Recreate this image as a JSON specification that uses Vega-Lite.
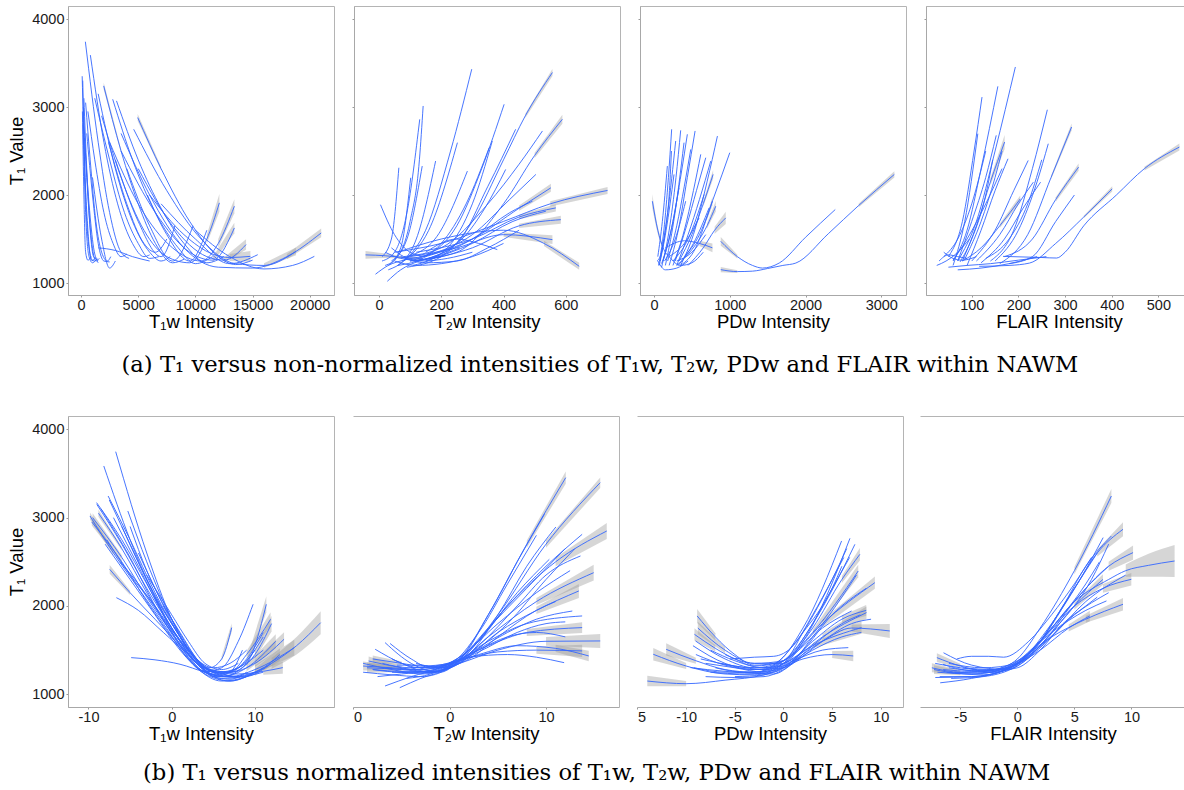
{
"$schema":"https://vega.github.io/schema/vega-lite/v6.json",
"background":"white",
"padding":{"left":7,"top":5,"right":0,"bottom":0},
"config":{
 "font":"Liberation Sans",
 "view":{"stroke":"#b4b4b4","strokeWidth":1},
 "axis":{"grid":false,"labelFont":"Liberation Sans","labelFontSize":14.5,"labelColor":"#1a1a1a","titleFont":"Liberation Sans","titleFontSize":18.5,"titleFontWeight":"normal","titleColor":"#000000","tickColor":"#9a9a9a","tickSize":2,"domainColor":"#a8a8a8","labelPadding":1},
 "axisX":{"titlePadding":1},
 "axisY":{"titlePadding":5,"labelPadding":2}
},
"datasets":{
"a1":[
{"c":1,"x":100,"y":3350},{"c":1,"x":300,"y":2400},{"c":1,"x":600,"y":1600},{"c":1,"x":900,"y":1260},{"c":1,"x":1200,"y":1250},
{"c":2,"x":150,"y":3300},{"c":2,"x":350,"y":2200},{"c":2,"x":700,"y":1400},{"c":2,"x":1000,"y":1260},{"c":2,"x":1300,"y":1290},
{"c":3,"x":200,"y":3000},{"c":3,"x":500,"y":2200},{"c":3,"x":900,"y":1500},{"c":3,"x":1300,"y":1250},{"c":3,"x":1600,"y":1280},
{"c":4,"x":379,"y":3742},{"c":4,"x":1500,"y":2600},{"c":4,"x":2500,"y":1800},{"c":4,"x":3500,"y":1350},{"c":4,"x":4200,"y":1280},
{"c":5,"x":816,"y":3590},{"c":5,"x":2000,"y":2600},{"c":5,"x":3200,"y":1900},{"c":5,"x":4500,"y":1450},{"c":5,"x":5500,"y":1300},{"c":5,"x":6000,"y":1320},
{"c":6,"x":120,"y":2950},{"c":6,"x":250,"y":2000},{"c":6,"x":400,"y":1350},{"c":6,"x":600,"y":1260},{"c":6,"x":900,"y":1300},
{"c":7,"x":250,"y":3100},{"c":7,"x":500,"y":2300},{"c":7,"x":800,"y":1600},{"c":7,"x":1100,"y":1300},{"c":7,"x":1500,"y":1260},
{"c":8,"x":400,"y":3050},{"c":8,"x":800,"y":2400},{"c":8,"x":1300,"y":1700},{"c":8,"x":1800,"y":1350},{"c":8,"x":2300,"y":1250},{"c":8,"x":2600,"y":1300},
{"c":9,"x":180,"y":2800},{"c":9,"x":400,"y":1800},{"c":9,"x":700,"y":1300},{"c":9,"x":1000,"y":1230},{"c":9,"x":1400,"y":1280},
{"c":10,"x":600,"y":2950},{"c":10,"x":1200,"y":2400},{"c":10,"x":2000,"y":1800},{"c":10,"x":2800,"y":1450},{"c":10,"x":3500,"y":1300},{"c":10,"x":4000,"y":1330},
{"c":11,"x":1200,"y":3100},{"c":11,"x":2500,"y":2400},{"c":11,"x":3800,"y":1800},{"c":11,"x":5000,"y":1450},{"c":11,"x":6000,"y":1280},{"c":11,"x":6800,"y":1300},
{"c":12,"x":1500,"y":3150},{"c":12,"x":3000,"y":2300},{"c":12,"x":4500,"y":1700},{"c":12,"x":6000,"y":1350},{"c":12,"x":7000,"y":1250},{"c":12,"x":7800,"y":1300},
{"c":13,"x":1982,"y":3240,"l":3200,"h":3280},{"c":13,"x":3500,"y":2500,"l":2480,"h":2520},{"c":13,"x":5000,"y":1900},{"c":13,"x":6500,"y":1450},{"c":13,"x":8000,"y":1230},{"c":13,"x":9000,"y":1270},
{"c":14,"x":2769,"y":3088},{"c":14,"x":4500,"y":2400},{"c":14,"x":6500,"y":1800},{"c":14,"x":8500,"y":1400},{"c":14,"x":10000,"y":1220},{"c":14,"x":11500,"y":1300},
{"c":15,"x":3100,"y":3070},{"c":15,"x":5000,"y":2400},{"c":15,"x":7000,"y":1850},{"c":15,"x":9000,"y":1450},{"c":15,"x":11000,"y":1230},{"c":15,"x":12500,"y":1300},
{"c":16,"x":4955,"y":2880,"l":2840,"h":2920},{"c":16,"x":7000,"y":2300,"l":2280,"h":2320},{"c":16,"x":9500,"y":1700},{"c":16,"x":12000,"y":1300},{"c":16,"x":13500,"y":1210},{"c":16,"x":15000,"y":1260},
{"c":17,"x":4605,"y":2747},{"c":17,"x":7500,"y":2050},{"c":17,"x":10500,"y":1500},{"c":17,"x":13500,"y":1220},{"c":17,"x":16000,"y":1200,"l":1175,"h":1225},{"c":17,"x":18800,"y":1360,"l":1315,"h":1405},
{"c":18,"x":3500,"y":2700},{"c":18,"x":6000,"y":2000},{"c":18,"x":9000,"y":1400},{"c":18,"x":12000,"y":1180},{"c":18,"x":15000,"y":1170},{"c":18,"x":18000,"y":1300,"l":1270,"h":1330},{"c":18,"x":21000,"y":1569,"l":1519,"h":1619},
{"c":19,"x":1800,"y":2900},{"c":19,"x":3500,"y":2200},{"c":19,"x":5500,"y":1600},{"c":19,"x":7500,"y":1300},{"c":19,"x":9500,"y":1230},{"c":19,"x":11000,"y":1500,"l":1450,"h":1550},{"c":19,"x":12097,"y":1911,"l":1811,"h":2011},
{"c":20,"x":2500,"y":2600},{"c":20,"x":5000,"y":1900},{"c":20,"x":8000,"y":1400},{"c":20,"x":10500,"y":1250},{"c":20,"x":12000,"y":1450,"l":1400,"h":1500},{"c":20,"x":13409,"y":1873,"l":1793,"h":1953},
{"c":21,"x":3500,"y":2500},{"c":21,"x":6500,"y":1800},{"c":21,"x":9500,"y":1350},{"c":21,"x":11500,"y":1260,"l":1230,"h":1290},{"c":21,"x":13409,"y":1626,"l":1566,"h":1686},
{"c":22,"x":5000,"y":2300},{"c":22,"x":8000,"y":1650},{"c":22,"x":11000,"y":1300},{"c":22,"x":12500,"y":1260,"l":1230,"h":1290},{"c":22,"x":14429,"y":1437,"l":1377,"h":1497},
{"c":23,"x":6000,"y":2000},{"c":23,"x":9000,"y":1550},{"c":23,"x":11500,"y":1330},{"c":23,"x":13000,"y":1290,"l":1250,"h":1330},{"c":23,"x":14808,"y":1303,"l":1243,"h":1363},
{"c":24,"x":7000,"y":1900},{"c":24,"x":10000,"y":1500},{"c":24,"x":13000,"y":1220},{"c":24,"x":15450,"y":1322},
{"c":25,"x":10000,"y":1600},{"c":25,"x":13000,"y":1300},{"c":25,"x":16000,"y":1160},{"c":25,"x":18500,"y":1200},{"c":25,"x":20400,"y":1303},
{"c":26,"x":1500,"y":1400},{"c":26,"x":3000,"y":1370},{"c":26,"x":4500,"y":1300},{"c":26,"x":6000,"y":1250},
{"c":27,"x":1000,"y":2200},{"c":27,"x":1800,"y":1500},{"c":27,"x":2500,"y":1170},{"c":27,"x":3000,"y":1250},
{"c":28,"x":3000,"y":2400},{"c":28,"x":5000,"y":1700},{"c":28,"x":7000,"y":1300},{"c":28,"x":8200,"y":1650},
{"c":29,"x":4000,"y":2300},{"c":29,"x":6000,"y":1650},{"c":29,"x":8000,"y":1250},{"c":29,"x":9800,"y":1650},
{"c":30,"x":5800,"y":2000},{"c":30,"x":7500,"y":1550},{"c":30,"x":9500,"y":1250},{"c":30,"x":11000,"y":1600},
{"c":31,"x":2400,"y":2600},{"c":31,"x":4000,"y":1900},{"c":31,"x":5500,"y":1450},{"c":31,"x":6500,"y":1350},{"c":31,"x":7500,"y":1500},
{"c":32,"x":500,"y":2700},{"c":32,"x":1000,"y":2000},{"c":32,"x":1500,"y":1450},{"c":32,"x":2000,"y":1250},{"c":32,"x":2500,"y":1240},
{"c":33,"x":300,"y":2650},{"c":33,"x":700,"y":1900},{"c":33,"x":1100,"y":1400},{"c":33,"x":1500,"y":1230}
],
"a2":[
{"c":1,"x":-43,"y":1320,"l":1275,"h":1365},{"c":1,"x":20,"y":1310,"l":1285,"h":1335},{"c":1,"x":80,"y":1290,"l":1275,"h":1305},{"c":1,"x":140,"y":1280,"l":1265,"h":1295},
{"c":2,"x":20,"y":1200},{"c":2,"x":60,"y":1300},{"c":2,"x":100,"y":1700},{"c":2,"x":130,"y":2400},{"c":2,"x":142,"y":3012},
{"c":3,"x":10,"y":1250},{"c":3,"x":50,"y":1350},{"c":3,"x":90,"y":1800},{"c":3,"x":131,"y":2860},
{"c":4,"x":30,"y":1150},{"c":4,"x":80,"y":1250},{"c":4,"x":150,"y":1600},{"c":4,"x":230,"y":2500},{"c":4,"x":298,"y":3430},
{"c":5,"x":90,"y":1180},{"c":5,"x":200,"y":1300},{"c":5,"x":300,"y":1700},{"c":5,"x":400,"y":2400},{"c":5,"x":470,"y":2900,"l":2875,"h":2925},{"c":5,"x":557,"y":3392,"l":3352,"h":3432},
{"c":6,"x":60,"y":1200},{"c":6,"x":150,"y":1300},{"c":6,"x":250,"y":1650},{"c":6,"x":330,"y":2300},{"c":6,"x":402,"y":3031},
{"c":7,"x":100,"y":1250},{"c":7,"x":250,"y":1350},{"c":7,"x":400,"y":1900},{"c":7,"x":500,"y":2450,"l":2420,"h":2480},{"c":7,"x":589,"y":2861,"l":2811,"h":2911},
{"c":8,"x":80,"y":1300},{"c":8,"x":200,"y":1400},{"c":8,"x":350,"y":1900},{"c":8,"x":450,"y":2350},{"c":8,"x":525,"y":2728},
{"c":9,"x":50,"y":1350},{"c":9,"x":200,"y":1450},{"c":9,"x":400,"y":1700},{"c":9,"x":550,"y":1900,"l":1870,"h":1930},{"c":9,"x":734,"y":2052,"l":2012,"h":2092},
{"c":10,"x":60,"y":1350},{"c":10,"x":200,"y":1500},{"c":10,"x":400,"y":1600},{"c":10,"x":530,"y":1450,"l":1420,"h":1480},{"c":10,"x":643,"y":1190,"l":1150,"h":1230},
{"c":11,"x":100,"y":1300},{"c":11,"x":250,"y":1400},{"c":11,"x":400,"y":1550,"l":1525,"h":1575},{"c":11,"x":557,"y":1493,"l":1443,"h":1543},
{"c":12,"x":120,"y":1250},{"c":12,"x":300,"y":1400},{"c":12,"x":450,"y":1650,"l":1625,"h":1675},{"c":12,"x":584,"y":1720,"l":1675,"h":1765},
{"c":13,"x":150,"y":1300},{"c":13,"x":300,"y":1500},{"c":13,"x":450,"y":1850,"l":1820,"h":1880},{"c":13,"x":552,"y":2082,"l":2037,"h":2127},
{"c":14,"x":120,"y":1350},{"c":14,"x":300,"y":1500},{"c":14,"x":450,"y":1750,"l":1725,"h":1775},{"c":14,"x":568,"y":1854,"l":1814,"h":1894},
{"c":15,"x":5,"y":1890},{"c":15,"x":50,"y":1550},{"c":15,"x":100,"y":1350},{"c":15,"x":150,"y":1300},
{"c":16,"x":150,"y":1350},{"c":16,"x":250,"y":1500},{"c":16,"x":320,"y":1450},{"c":16,"x":380,"y":1380},
{"c":17,"x":10,"y":1300},{"c":17,"x":40,"y":1500},{"c":17,"x":64,"y":2310},
{"c":18,"x":30,"y":1200},{"c":18,"x":70,"y":1400},{"c":18,"x":102,"y":2196},
{"c":19,"x":40,"y":1250},{"c":19,"x":90,"y":1500},{"c":19,"x":139,"y":2329},
{"c":20,"x":60,"y":1200},{"c":20,"x":120,"y":1500},{"c":20,"x":182,"y":2386},
{"c":21,"x":80,"y":1250},{"c":21,"x":160,"y":1600},{"c":21,"x":252,"y":2595},
{"c":22,"x":90,"y":1300},{"c":22,"x":180,"y":1500},{"c":22,"x":284,"y":2272},
{"c":23,"x":100,"y":1250},{"c":23,"x":200,"y":1450},{"c":23,"x":280,"y":1900},{"c":23,"x":354,"y":2538},
{"c":24,"x":110,"y":1200},{"c":24,"x":220,"y":1400},{"c":24,"x":300,"y":1900},{"c":24,"x":364,"y":2614},
{"c":25,"x":120,"y":1250},{"c":25,"x":250,"y":1450},{"c":25,"x":350,"y":2100},{"c":25,"x":439,"y":2747},
{"c":26,"x":130,"y":1300},{"c":26,"x":250,"y":1450},{"c":26,"x":340,"y":1850},{"c":26,"x":407,"y":2291},
{"c":27,"x":140,"y":1300},{"c":27,"x":300,"y":1550},{"c":27,"x":420,"y":1950},{"c":27,"x":504,"y":2234},
{"c":28,"x":150,"y":1250},{"c":28,"x":300,"y":1450},{"c":28,"x":430,"y":1700},{"c":28,"x":536,"y":1816},
{"c":29,"x":160,"y":1280},{"c":29,"x":300,"y":1500},{"c":29,"x":420,"y":1800},{"c":29,"x":493,"y":1930},
{"c":30,"x":-11,"y":1100},{"c":30,"x":30,"y":1200},{"c":30,"x":80,"y":1260},{"c":30,"x":140,"y":1300},
{"c":31,"x":27,"y":1020},{"c":31,"x":70,"y":1150},{"c":31,"x":130,"y":1250},{"c":31,"x":200,"y":1300},
{"c":32,"x":40,"y":1400},{"c":32,"x":80,"y":1300},{"c":32,"x":140,"y":1250},{"c":32,"x":220,"y":1280},{"c":32,"x":300,"y":1350},
{"c":33,"x":20,"y":1350},{"c":33,"x":70,"y":1280},{"c":33,"x":120,"y":1260},{"c":33,"x":180,"y":1300},{"c":33,"x":260,"y":1400},
{"c":34,"x":50,"y":1250},{"c":34,"x":120,"y":1200},{"c":34,"x":200,"y":1220},{"c":34,"x":300,"y":1300},{"c":34,"x":400,"y":1450},
{"c":35,"x":70,"y":1300},{"c":35,"x":150,"y":1230},{"c":35,"x":250,"y":1250},{"c":35,"x":350,"y":1400},{"c":35,"x":450,"y":1600}
],
"a3":[
{"c":1,"x":-22,"y":1930,"l":1850,"h":2010},{"c":1,"x":50,"y":1600,"l":1560,"h":1640},{"c":1,"x":120,"y":1400,"l":1380,"h":1420},{"c":1,"x":200,"y":1300},
{"c":2,"x":60,"y":1200},{"c":2,"x":130,"y":1600},{"c":2,"x":190,"y":2200},{"c":2,"x":233,"y":2747},
{"c":3,"x":100,"y":1180},{"c":3,"x":200,"y":1600},{"c":3,"x":290,"y":2200},{"c":3,"x":352,"y":2735},
{"c":4,"x":120,"y":1250},{"c":4,"x":250,"y":1700},{"c":4,"x":360,"y":2250},{"c":4,"x":440,"y":2690},
{"c":5,"x":200,"y":1200},{"c":5,"x":320,"y":1600},{"c":5,"x":440,"y":2200},{"c":5,"x":542,"y":2728},
{"c":6,"x":50,"y":1300},{"c":6,"x":110,"y":1700},{"c":6,"x":176,"y":2329},
{"c":7,"x":80,"y":1250},{"c":7,"x":180,"y":1800},{"c":7,"x":286,"y":2614},
{"c":8,"x":150,"y":1200},{"c":8,"x":260,"y":1700},{"c":8,"x":396,"y":2595},
{"c":9,"x":180,"y":1250},{"c":9,"x":300,"y":1650},{"c":9,"x":400,"y":2100},{"c":9,"x":485,"y":2519},
{"c":10,"x":250,"y":1200},{"c":10,"x":400,"y":1600},{"c":10,"x":520,"y":2050},{"c":10,"x":617,"y":2462},
{"c":11,"x":280,"y":1250},{"c":11,"x":430,"y":1650},{"c":11,"x":560,"y":2050},{"c":11,"x":683,"y":2424},
{"c":12,"x":300,"y":1200},{"c":12,"x":450,"y":1550},{"c":12,"x":600,"y":1950},{"c":12,"x":749,"y":2386},
{"c":13,"x":330,"y":1250},{"c":13,"x":500,"y":1550},{"c":13,"x":650,"y":1900,"l":1870,"h":1930},{"c":13,"x":780,"y":2234,"l":2184,"h":2284},
{"c":14,"x":350,"y":1200},{"c":14,"x":520,"y":1550},{"c":14,"x":700,"y":2150},{"c":14,"x":837,"y":2670},
{"c":15,"x":400,"y":1300},{"c":15,"x":600,"y":1550},{"c":15,"x":800,"y":2000},{"c":15,"x":1000,"y":2481},
{"c":16,"x":70,"y":1200},{"c":16,"x":160,"y":1600},{"c":16,"x":264,"y":2234},
{"c":17,"x":100,"y":1220},{"c":17,"x":200,"y":1500},{"c":17,"x":330,"y":2082},
{"c":18,"x":140,"y":1250},{"c":18,"x":280,"y":1500},{"c":18,"x":418,"y":1930},
{"c":19,"x":250,"y":1250},{"c":19,"x":450,"y":1500},{"c":19,"x":661,"y":2006},
{"c":20,"x":320,"y":1200},{"c":20,"x":520,"y":1450},{"c":20,"x":727,"y":1854},
{"c":21,"x":200,"y":1300},{"c":21,"x":400,"y":1450},{"c":21,"x":595,"y":1740},
{"c":22,"x":300,"y":1250},{"c":22,"x":500,"y":1350},{"c":22,"x":683,"y":1550},
{"c":23,"x":350,"y":1200},{"c":23,"x":550,"y":1400},{"c":23,"x":700,"y":1750,"l":1720,"h":1780},{"c":23,"x":771,"y":1930,"l":1880,"h":1980},
{"c":24,"x":300,"y":1200},{"c":24,"x":500,"y":1380},{"c":24,"x":700,"y":1650,"l":1620,"h":1680},{"c":24,"x":815,"y":1873,"l":1813,"h":1933},
{"c":25,"x":450,"y":1200},{"c":25,"x":650,"y":1400},{"c":25,"x":800,"y":1600,"l":1560,"h":1640},{"c":25,"x":947,"y":1740,"l":1670,"h":1810},
{"c":26,"x":150,"y":1400},{"c":26,"x":400,"y":1480},{"c":26,"x":600,"y":1450,"l":1420,"h":1480},{"c":26,"x":771,"y":1400,"l":1350,"h":1450},
{"c":27,"x":881,"y":1474,"l":1424,"h":1524},{"c":27,"x":1100,"y":1300,"l":1280,"h":1320},{"c":27,"x":1300,"y":1200},{"c":27,"x":1432,"y":1170},{"c":27,"x":1652,"y":1227},{"c":27,"x":2000,"y":1520},{"c":27,"x":2392,"y":1835},
{"c":28,"x":881,"y":1152,"l":1122,"h":1182},{"c":28,"x":1100,"y":1130,"l":1115,"h":1145},{"c":28,"x":1300,"y":1135},{"c":28,"x":1500,"y":1165},{"c":28,"x":1700,"y":1200},{"c":28,"x":1872,"y":1227},{"c":28,"x":2300,"y":1560},{"c":28,"x":2700,"y":1880,"l":1860,"h":1900},{"c":28,"x":3172,"y":2234,"l":2199,"h":2269},
{"c":29,"x":40,"y":1250},{"c":29,"x":100,"y":1350},{"c":29,"x":150,"y":1600},{"c":29,"x":200,"y":2000},{"c":29,"x":230,"y":2500},
{"c":30,"x":50,"y":1250},{"c":30,"x":150,"y":1150},{"c":30,"x":300,"y":1170},{"c":30,"x":450,"y":1250},
{"c":31,"x":200,"y":1300},{"c":31,"x":350,"y":1200},{"c":31,"x":500,"y":1230},{"c":31,"x":650,"y":1350}
],
"a4":[
{"c":1,"x":60,"y":1250},{"c":1,"x":90,"y":1600},{"c":1,"x":120,"y":2300},{"c":1,"x":156,"y":3235},
{"c":2,"x":70,"y":1250},{"c":2,"x":110,"y":1700},{"c":2,"x":150,"y":2500},{"c":2,"x":193.5,"y":3455},
{"c":3,"x":50,"y":1300},{"c":3,"x":80,"y":1700},{"c":3,"x":105,"y":2500},{"c":3,"x":122,"y":3113},
{"c":4,"x":60,"y":1200},{"c":4,"x":85,"y":1700},{"c":4,"x":113,"y":2697},
{"c":5,"x":70,"y":1250},{"c":5,"x":100,"y":1700},{"c":5,"x":130,"y":2200},{"c":5,"x":152.5,"y":2678},
{"c":6,"x":80,"y":1250},{"c":6,"x":110,"y":1650},{"c":6,"x":140,"y":2150,"l":2110,"h":2190},{"c":6,"x":170.5,"y":2602,"l":2522,"h":2682},
{"c":7,"x":90,"y":1200},{"c":7,"x":120,"y":1600},{"c":7,"x":150,"y":2050},{"c":7,"x":177.7,"y":2412},
{"c":8,"x":100,"y":1250},{"c":8,"x":150,"y":1600},{"c":8,"x":190,"y":2050},{"c":8,"x":221,"y":2393},
{"c":9,"x":110,"y":1250},{"c":9,"x":160,"y":1550},{"c":9,"x":200,"y":1900},{"c":9,"x":232,"y":2146},
{"c":10,"x":120,"y":1230},{"c":10,"x":170,"y":1500},{"c":10,"x":210,"y":1850},{"c":10,"x":247.5,"y":2146},
{"c":11,"x":140,"y":1250},{"c":11,"x":190,"y":1600},{"c":11,"x":230,"y":2300},{"c":11,"x":262,"y":2969},
{"c":12,"x":150,"y":1250},{"c":12,"x":200,"y":1600},{"c":12,"x":240,"y":2150},{"c":12,"x":264,"y":2583},
{"c":13,"x":160,"y":1220},{"c":13,"x":220,"y":1550},{"c":13,"x":270,"y":2200,"l":2180,"h":2220},{"c":13,"x":314,"y":2773,"l":2733,"h":2813},
{"c":14,"x":170,"y":1300},{"c":14,"x":230,"y":1500},{"c":14,"x":280,"y":1950,"l":1925,"h":1975},{"c":14,"x":329,"y":2317,"l":2277,"h":2357},
{"c":15,"x":80,"y":1250},{"c":15,"x":120,"y":1400},{"c":15,"x":160,"y":1650,"l":1625,"h":1675},{"c":15,"x":204,"y":1956,"l":1916,"h":1996},
{"c":16,"x":167,"y":1303},{"c":16,"x":250,"y":1290},{"c":16,"x":282,"y":1284},{"c":16,"x":300,"y":1350},{"c":16,"x":340,"y":1650},{"c":16,"x":410,"y":2000},{"c":16,"x":470,"y":2300,"l":2280,"h":2320},{"c":16,"x":545,"y":2545,"l":2505,"h":2585},
{"c":17,"x":116,"y":1190},{"c":17,"x":180,"y":1200},{"c":17,"x":224,"y":1227},{"c":17,"x":280,"y":1450},{"c":17,"x":340,"y":1750,"l":1735,"h":1765},{"c":17,"x":401,"y":2070,"l":2040,"h":2100},
{"c":18,"x":60,"y":1260},{"c":18,"x":90,"y":1500},{"c":18,"x":130,"y":1900},{"c":18,"x":165,"y":2300},
{"c":19,"x":75,"y":1240},{"c":19,"x":100,"y":1500},{"c":19,"x":130,"y":2000},{"c":19,"x":145,"y":2400},
{"c":20,"x":40,"y":1300},{"c":20,"x":70,"y":1500},{"c":20,"x":100,"y":1900},{"c":20,"x":130,"y":2500},
{"c":21,"x":85,"y":1270},{"c":21,"x":120,"y":1700},{"c":21,"x":150,"y":2200},{"c":21,"x":165,"y":2500},
{"c":22,"x":30,"y":1250},{"c":22,"x":50,"y":1320},{"c":22,"x":70,"y":1300},{"c":22,"x":90,"y":1280},
{"c":23,"x":25,"y":1200},{"c":23,"x":45,"y":1250},{"c":23,"x":70,"y":1350},{"c":23,"x":95,"y":1500},
{"c":24,"x":40,"y":1350},{"c":24,"x":60,"y":1280},{"c":24,"x":80,"y":1260},{"c":24,"x":110,"y":1300},
{"c":25,"x":50,"y":1180},{"c":25,"x":90,"y":1200},{"c":25,"x":140,"y":1220},{"c":25,"x":200,"y":1260},{"c":25,"x":260,"y":1300},
{"c":26,"x":70,"y":1150},{"c":26,"x":120,"y":1170},{"c":26,"x":180,"y":1220},{"c":26,"x":240,"y":1300},
{"c":27,"x":180,"y":1220},{"c":27,"x":230,"y":1300},{"c":27,"x":280,"y":1700},{"c":27,"x":320,"y":2000},
{"c":28,"x":130,"y":1280},{"c":28,"x":180,"y":1500},{"c":28,"x":220,"y":1900},{"c":28,"x":250,"y":2400}
],
"b1":[
{"c":1,"x":-6.73,"y":3747},{"c":1,"x":-3,"y":2600},{"c":1,"x":0,"y":1850},{"c":1,"x":3,"y":1350},{"c":1,"x":5,"y":1200},{"c":1,"x":7,"y":1170},{"c":1,"x":9,"y":1250},
{"c":2,"x":-8.16,"y":3585},{"c":2,"x":-5,"y":2750},{"c":2,"x":-2,"y":2100},{"c":2,"x":1,"y":1550},{"c":2,"x":4,"y":1260},{"c":2,"x":6,"y":1300},{"c":2,"x":8,"y":1600},{"c":2,"x":9.78,"y":2019},
{"c":3,"x":-9.82,"y":3019,"l":2979,"h":3059},{"c":3,"x":-7,"y":2600,"l":2575,"h":2625},{"c":3,"x":-4,"y":2200},{"c":3,"x":-1,"y":1800},{"c":3,"x":2,"y":1400},{"c":3,"x":5,"y":1220},{"c":3,"x":8,"y":1300},{"c":3,"x":11,"y":1500},
{"c":4,"x":-9.03,"y":3170},{"c":4,"x":-6,"y":2750},{"c":4,"x":-3,"y":2250},{"c":4,"x":0,"y":1750},{"c":4,"x":3,"y":1350},{"c":4,"x":6,"y":1200},{"c":4,"x":9,"y":1350,"l":1310,"h":1390},{"c":4,"x":11.37,"y":2019,"l":1929,"h":2109},
{"c":5,"x":-7.64,"y":3245},{"c":5,"x":-5,"y":2750},{"c":5,"x":-2,"y":2150},{"c":5,"x":1,"y":1650},{"c":5,"x":4,"y":1300},{"c":5,"x":7,"y":1250},{"c":5,"x":9,"y":1450,"l":1410,"h":1490},{"c":5,"x":11.88,"y":1849,"l":1769,"h":1929},
{"c":6,"x":-5.27,"y":3075},{"c":6,"x":-3,"y":2500},{"c":6,"x":0,"y":1850},{"c":6,"x":2.5,"y":1450},{"c":6,"x":4.5,"y":1300},{"c":6,"x":6,"y":1400,"l":1370,"h":1430},{"c":6,"x":7.21,"y":1755,"l":1705,"h":1805},
{"c":7,"x":-7.45,"y":2415,"l":2365,"h":2465},{"c":7,"x":-5,"y":2150,"l":2125,"h":2175},{"c":7,"x":-2,"y":1850},{"c":7,"x":1,"y":1550},{"c":7,"x":4,"y":1300},{"c":7,"x":7,"y":1250},{"c":7,"x":10,"y":1350,"l":1310,"h":1390},{"c":7,"x":13.5,"y":1623,"l":1543,"h":1703},
{"c":8,"x":-6.65,"y":2094},{"c":8,"x":-4,"y":1950},{"c":8,"x":-1,"y":1700},{"c":8,"x":2,"y":1450},{"c":8,"x":5,"y":1250},{"c":8,"x":8,"y":1230},{"c":8,"x":11,"y":1260,"l":1220,"h":1300},{"c":8,"x":13.35,"y":1302,"l":1232,"h":1372},
{"c":9,"x":-4.87,"y":1415},{"c":9,"x":-2,"y":1390},{"c":9,"x":1,"y":1340},{"c":9,"x":4,"y":1250},{"c":9,"x":6,"y":1200},{"c":9,"x":8,"y":1190},
{"c":10,"x":-9.5,"y":3000,"l":2950,"h":3050},{"c":10,"x":-6,"y":2550,"l":2525,"h":2575},{"c":10,"x":-3,"y":2100},{"c":10,"x":0,"y":1700},{"c":10,"x":3,"y":1350},{"c":10,"x":6,"y":1180},{"c":10,"x":9,"y":1200},{"c":10,"x":12,"y":1350},
{"c":11,"x":-8.5,"y":3100},{"c":11,"x":-5,"y":2550},{"c":11,"x":-2,"y":2000},{"c":11,"x":1,"y":1550},{"c":11,"x":4,"y":1250},{"c":11,"x":7,"y":1200},{"c":11,"x":10,"y":1280,"l":1230,"h":1330},{"c":11,"x":14.73,"y":1528,"l":1438,"h":1618},
{"c":12,"x":-7.5,"y":3200},{"c":12,"x":-5,"y":2700},{"c":12,"x":-2,"y":2100},{"c":12,"x":1,"y":1600},{"c":12,"x":4,"y":1260},{"c":12,"x":7,"y":1250},{"c":12,"x":10,"y":1450,"l":1400,"h":1500},{"c":12,"x":12,"y":1800,"l":1710,"h":1890},
{"c":13,"x":-7,"y":3000},{"c":13,"x":-4,"y":2450},{"c":13,"x":-1,"y":1900},{"c":13,"x":2,"y":1500},{"c":13,"x":5,"y":1230},{"c":13,"x":8,"y":1300},{"c":13,"x":11,"y":1650},
{"c":14,"x":-6,"y":2900},{"c":14,"x":-3,"y":2300},{"c":14,"x":0,"y":1800},{"c":14,"x":3,"y":1400},{"c":14,"x":5.5,"y":1250},{"c":14,"x":8,"y":1300},{"c":14,"x":10,"y":1500},
{"c":15,"x":-8,"y":2700},{"c":15,"x":-5,"y":2300},{"c":15,"x":-2,"y":1900},{"c":15,"x":1,"y":1500},{"c":15,"x":4,"y":1230},{"c":15,"x":7,"y":1150},{"c":15,"x":10,"y":1250},
{"c":16,"x":-9,"y":3150},{"c":16,"x":-6,"y":2700},{"c":16,"x":-3,"y":2200},{"c":16,"x":0,"y":1750},{"c":16,"x":3,"y":1350},{"c":16,"x":6,"y":1200},{"c":16,"x":9,"y":1300,"l":1260,"h":1340},{"c":16,"x":12.5,"y":1600,"l":1520,"h":1680},
{"c":17,"x":-5,"y":2900},{"c":17,"x":-3,"y":2400},{"c":17,"x":0,"y":1850},{"c":17,"x":3,"y":1400},{"c":17,"x":5,"y":1200},{"c":17,"x":7,"y":1250},{"c":17,"x":8.5,"y":1500},
{"c":18,"x":-7.8,"y":2750},{"c":18,"x":-5,"y":2350},{"c":18,"x":-2,"y":2000},{"c":18,"x":1,"y":1600},{"c":18,"x":4,"y":1300},{"c":18,"x":7,"y":1200},{"c":18,"x":10,"y":1250,"l":1210,"h":1290},{"c":18,"x":13,"y":1450,"l":1380,"h":1520},
{"c":19,"x":-4,"y":2600},{"c":19,"x":-2,"y":2200},{"c":19,"x":1,"y":1650},{"c":19,"x":3,"y":1400},{"c":19,"x":5,"y":1300},{"c":19,"x":7,"y":1350},{"c":19,"x":9,"y":1500},
{"c":20,"x":-9.6,"y":2950,"l":2910,"h":2990},{"c":20,"x":-6,"y":2500,"l":2480,"h":2520},{"c":20,"x":-3,"y":2050},{"c":20,"x":0,"y":1650},{"c":20,"x":3,"y":1300},{"c":20,"x":6,"y":1150},{"c":20,"x":9,"y":1200},{"c":20,"x":12,"y":1350,"l":1290,"h":1410},{"c":20,"x":15,"y":1550,"l":1450,"h":1650},{"c":20,"x":17.9,"y":1811,"l":1681,"h":1941},
{"c":21,"x":-3,"y":2350},{"c":21,"x":0,"y":1900},{"c":21,"x":2,"y":1600},{"c":21,"x":4,"y":1350},{"c":21,"x":6,"y":1280},{"c":21,"x":8,"y":1350},
{"c":22,"x":-8.8,"y":3050,"l":3010,"h":3090},{"c":22,"x":-6,"y":2650,"l":2630,"h":2670},{"c":22,"x":-3,"y":2150},{"c":22,"x":0,"y":1700},{"c":22,"x":3,"y":1350},{"c":22,"x":5.5,"y":1250},{"c":22,"x":8,"y":1200},{"c":22,"x":11,"y":1300},
{"c":23,"x":-6.2,"y":2500},{"c":23,"x":-4,"y":2250},{"c":23,"x":-1,"y":1850},{"c":23,"x":2,"y":1500},{"c":23,"x":5,"y":1250},{"c":23,"x":8,"y":1200},{"c":23,"x":11,"y":1250},
{"c":24,"x":-2,"y":2100},{"c":24,"x":0,"y":1800},{"c":24,"x":3,"y":1400},{"c":24,"x":5,"y":1250},{"c":24,"x":7,"y":1250},{"c":24,"x":9,"y":1400},{"c":24,"x":11,"y":1700},
{"c":25,"x":-1,"y":2000},{"c":25,"x":1,"y":1700},{"c":25,"x":3,"y":1400},{"c":25,"x":5,"y":1200},{"c":25,"x":7,"y":1150},{"c":25,"x":9,"y":1200}
],
"b2":[
{"c":1,"x":-8.6,"y":1300,"l":1240,"h":1360},{"c":1,"x":-5,"y":1280,"l":1255,"h":1305},{"c":1,"x":-2,"y":1250},{"c":1,"x":1,"y":1400},{"c":1,"x":4,"y":1900},{"c":1,"x":8,"y":2700,"l":2660,"h":2740},{"c":1,"x":12.05,"y":3453,"l":3383,"h":3523},
{"c":2,"x":-7.75,"y":1510},{"c":2,"x":-5,"y":1350},{"c":2,"x":-2,"y":1250},{"c":2,"x":1,"y":1380},{"c":2,"x":5,"y":1900},{"c":2,"x":10,"y":2700,"l":2660,"h":2740},{"c":2,"x":15.63,"y":3396,"l":3336,"h":3456},
{"c":3,"x":-6.72,"y":1585},{"c":3,"x":-4,"y":1350},{"c":3,"x":-1,"y":1250},{"c":3,"x":2,"y":1500},{"c":3,"x":6,"y":2000},{"c":3,"x":11,"y":2500,"l":2450,"h":2550},{"c":3,"x":16.31,"y":2849,"l":2759,"h":2939},
{"c":4,"x":-6.2,"y":1575},{"c":4,"x":-4,"y":1400},{"c":4,"x":-2,"y":1300},{"c":4,"x":1,"y":1400},{"c":4,"x":4,"y":1900},{"c":4,"x":7,"y":2500},{"c":4,"x":9.83,"y":3038},
{"c":5,"x":-8.43,"y":1377,"l":1327,"h":1427},{"c":5,"x":-5,"y":1300,"l":1280,"h":1320},{"c":5,"x":-2,"y":1250},{"c":5,"x":1,"y":1350},{"c":5,"x":5,"y":1900},{"c":5,"x":8,"y":2450},{"c":5,"x":11.02,"y":2894},
{"c":6,"x":-6.72,"y":1094},{"c":6,"x":-4,"y":1200},{"c":6,"x":-1,"y":1300},{"c":6,"x":2,"y":1500},{"c":6,"x":6,"y":2000},{"c":6,"x":10,"y":2450},{"c":6,"x":13.75,"y":2811},
{"c":7,"x":-5.19,"y":1075},{"c":7,"x":-3,"y":1180},{"c":7,"x":0,"y":1300},{"c":7,"x":3,"y":1550},{"c":7,"x":7,"y":2000},{"c":7,"x":10,"y":2350},{"c":7,"x":13.58,"y":2566},
{"c":8,"x":-9,"y":1350},{"c":8,"x":-6,"y":1280},{"c":8,"x":-3,"y":1230},{"c":8,"x":0,"y":1300},{"c":8,"x":4,"y":1650},{"c":8,"x":9,"y":2050,"l":2010,"h":2090},{"c":8,"x":14.95,"y":2377,"l":2287,"h":2467},
{"c":9,"x":-8,"y":1280},{"c":9,"x":-5,"y":1250},{"c":9,"x":-2,"y":1250},{"c":9,"x":1,"y":1350},{"c":9,"x":5,"y":1700},{"c":9,"x":9,"y":1950,"l":1910,"h":1990},{"c":9,"x":13.41,"y":2170,"l":2090,"h":2250},
{"c":10,"x":-7,"y":1300},{"c":10,"x":-4,"y":1280},{"c":10,"x":-1,"y":1300},{"c":10,"x":2,"y":1450},{"c":10,"x":6,"y":1700},{"c":10,"x":9,"y":1850},{"c":10,"x":12.73,"y":1943},
{"c":11,"x":-6,"y":1250},{"c":11,"x":-3,"y":1240},{"c":11,"x":0,"y":1330},{"c":11,"x":4,"y":1600},{"c":11,"x":8,"y":1800},{"c":11,"x":13.75,"y":1887},
{"c":12,"x":-9,"y":1320,"l":1270,"h":1370},{"c":12,"x":-6,"y":1300,"l":1275,"h":1325},{"c":12,"x":-3,"y":1280},{"c":12,"x":0,"y":1350},{"c":12,"x":4,"y":1550},{"c":12,"x":8,"y":1700,"l":1660,"h":1740},{"c":12,"x":13.75,"y":1755,"l":1695,"h":1815},
{"c":13,"x":-8,"y":1280},{"c":13,"x":-5,"y":1260},{"c":13,"x":-2,"y":1260},{"c":13,"x":1,"y":1350},{"c":13,"x":5,"y":1500},{"c":13,"x":10,"y":1600,"l":1550,"h":1650},{"c":13,"x":15.63,"y":1604,"l":1524,"h":1684},
{"c":14,"x":-7,"y":1350},{"c":14,"x":-4,"y":1300},{"c":14,"x":-1,"y":1320},{"c":14,"x":3,"y":1450},{"c":14,"x":7,"y":1550},{"c":14,"x":11,"y":1520,"l":1480,"h":1560},{"c":14,"x":14.44,"y":1434,"l":1374,"h":1494},
{"c":15,"x":-5,"y":1250},{"c":15,"x":-2,"y":1270},{"c":15,"x":1,"y":1380},{"c":15,"x":5,"y":1480},{"c":15,"x":9,"y":1500,"l":1460,"h":1540},{"c":15,"x":13.75,"y":1491,"l":1421,"h":1561},
{"c":16,"x":-4,"y":1300},{"c":16,"x":-1,"y":1330},{"c":16,"x":2,"y":1420},{"c":16,"x":6,"y":1450},{"c":16,"x":9,"y":1420},{"c":16,"x":11.88,"y":1358},
{"c":17,"x":-6,"y":1400},{"c":17,"x":-3,"y":1300},{"c":17,"x":0,"y":1350},{"c":17,"x":3,"y":1700},{"c":17,"x":6,"y":2250},{"c":17,"x":9,"y":2800},
{"c":18,"x":-9,"y":1250},{"c":18,"x":-6,"y":1220},{"c":18,"x":-3,"y":1200},{"c":18,"x":0,"y":1300},{"c":18,"x":3,"y":1600},{"c":18,"x":7,"y":2150},{"c":18,"x":10.34,"y":2528},
{"c":19,"x":-4.5,"y":1180},{"c":19,"x":-2,"y":1230},{"c":19,"x":1,"y":1400},{"c":19,"x":4,"y":1750},{"c":19,"x":8,"y":2200},{"c":19,"x":12,"y":2650},
{"c":20,"x":-7.5,"y":1200},{"c":20,"x":-5,"y":1230},{"c":20,"x":-2,"y":1270},{"c":20,"x":1,"y":1420},{"c":20,"x":5,"y":1800},{"c":20,"x":9,"y":2150},{"c":20,"x":12.5,"y":2400},
{"c":21,"x":-3.5,"y":1350},{"c":21,"x":-1,"y":1300},{"c":21,"x":2,"y":1400},{"c":21,"x":5,"y":1650},{"c":21,"x":9,"y":1950},{"c":21,"x":11,"y":2050},
{"c":22,"x":-8,"y":1400,"l":1360,"h":1440},{"c":22,"x":-5,"y":1350,"l":1330,"h":1370},{"c":22,"x":-3,"y":1320},{"c":22,"x":0,"y":1350},{"c":22,"x":3,"y":1480},{"c":22,"x":7,"y":1700},{"c":22,"x":10,"y":1800},{"c":22,"x":12,"y":1820},
{"c":23,"x":-5.5,"y":1330},{"c":23,"x":-3,"y":1330},{"c":23,"x":-1,"y":1300},{"c":23,"x":2,"y":1450},{"c":23,"x":6,"y":1800},{"c":23,"x":10,"y":2300},{"c":23,"x":13,"y":2650},
{"c":24,"x":-2,"y":1250},{"c":24,"x":0,"y":1300},{"c":24,"x":3,"y":1500},{"c":24,"x":6,"y":1650},{"c":24,"x":9,"y":1700},{"c":24,"x":12,"y":1650}
],
"b3":[
{"c":1,"x":-13.99,"y":1150,"l":1090,"h":1210},{"c":1,"x":-10,"y":1120,"l":1090,"h":1150},{"c":1,"x":-6,"y":1160},{"c":1,"x":-2,"y":1220},{"c":1,"x":1,"y":1380},{"c":1,"x":4,"y":1600},{"c":1,"x":7,"y":1750,"l":1710,"h":1790},{"c":1,"x":10.92,"y":1717,"l":1637,"h":1797},
{"c":2,"x":-13.38,"y":1453,"l":1383,"h":1523},{"c":2,"x":-10,"y":1320,"l":1285,"h":1355},{"c":2,"x":-6,"y":1230},{"c":2,"x":-3,"y":1220},{"c":2,"x":0,"y":1350},{"c":2,"x":3,"y":1750},{"c":2,"x":6,"y":2300,"l":2260,"h":2340},{"c":2,"x":7.85,"y":2585,"l":2515,"h":2655},
{"c":3,"x":-12.05,"y":1509,"l":1439,"h":1579},{"c":3,"x":-9,"y":1380,"l":1345,"h":1415},{"c":3,"x":-6,"y":1280},{"c":3,"x":-3,"y":1250},{"c":3,"x":0,"y":1380},{"c":3,"x":3,"y":1800},{"c":3,"x":6.83,"y":2766},
{"c":4,"x":-8.87,"y":1887,"l":1807,"h":1967},{"c":4,"x":-7,"y":1650,"l":1610,"h":1690},{"c":4,"x":-5,"y":1450},{"c":4,"x":-3,"y":1330},{"c":4,"x":-1,"y":1350},{"c":4,"x":2,"y":1750},{"c":4,"x":5.97,"y":2736},
{"c":5,"x":-9.15,"y":1679,"l":1609,"h":1749},{"c":5,"x":-7,"y":1520,"l":1485,"h":1555},{"c":5,"x":-5,"y":1400},{"c":5,"x":-3,"y":1320},{"c":5,"x":0,"y":1380},{"c":5,"x":3,"y":1800},{"c":5,"x":7.34,"y":2698},
{"c":6,"x":-9.04,"y":1604},{"c":6,"x":-6,"y":1400},{"c":6,"x":-3,"y":1300},{"c":6,"x":0,"y":1380},{"c":6,"x":3,"y":1700,"l":1670,"h":1730},{"c":6,"x":7.68,"y":2396,"l":2326,"h":2466},
{"c":7,"x":-9.56,"y":1302},{"c":7,"x":-6,"y":1260},{"c":7,"x":-3,"y":1240},{"c":7,"x":0,"y":1350},{"c":7,"x":4,"y":1800,"l":1760,"h":1840},{"c":7,"x":9.39,"y":2264,"l":2194,"h":2334},
{"c":8,"x":-8.5,"y":1400},{"c":8,"x":-5,"y":1320},{"c":8,"x":-2,"y":1280},{"c":8,"x":1,"y":1400},{"c":8,"x":4,"y":1650,"l":1610,"h":1690},{"c":8,"x":8.53,"y":1925,"l":1855,"h":1995},
{"c":9,"x":-7.5,"y":1500},{"c":9,"x":-5,"y":1380},{"c":9,"x":-2,"y":1300},{"c":9,"x":1,"y":1450},{"c":9,"x":4,"y":1750},{"c":9,"x":7,"y":1943},
{"c":10,"x":-9,"y":1450},{"c":10,"x":-6,"y":1330},{"c":10,"x":-3,"y":1280},{"c":10,"x":0,"y":1350},{"c":10,"x":3,"y":1550,"l":1520,"h":1580},{"c":10,"x":8.02,"y":1755,"l":1685,"h":1825},
{"c":11,"x":-8,"y":1350},{"c":11,"x":-5,"y":1300},{"c":11,"x":-2,"y":1250},{"c":11,"x":1,"y":1380},{"c":11,"x":4,"y":1500},{"c":11,"x":6.66,"y":1528},
{"c":12,"x":-7,"y":1300},{"c":12,"x":-4,"y":1250},{"c":12,"x":-1,"y":1270},{"c":12,"x":2,"y":1400},{"c":12,"x":5,"y":1450,"l":1410,"h":1490},{"c":12,"x":7.17,"y":1434,"l":1374,"h":1494},
{"c":13,"x":-8.8,"y":1750,"l":1680,"h":1820},{"c":13,"x":-6,"y":1500,"l":1465,"h":1535},{"c":13,"x":-3,"y":1350},{"c":13,"x":0,"y":1380},{"c":13,"x":2,"y":1700},{"c":13,"x":5,"y":2300},{"c":13,"x":6.5,"y":2650},
{"c":14,"x":-6,"y":1450},{"c":14,"x":-3,"y":1350},{"c":14,"x":0,"y":1350},{"c":14,"x":2,"y":1600},{"c":14,"x":4.5,"y":2100},{"c":14,"x":6.8,"y":2550},
{"c":15,"x":-9.3,"y":1550},{"c":15,"x":-6,"y":1350},{"c":15,"x":-3,"y":1280},{"c":15,"x":0,"y":1300},{"c":15,"x":3,"y":1650},{"c":15,"x":6,"y":2100},{"c":15,"x":7.5,"y":2350},
{"c":16,"x":-7.5,"y":1250},{"c":16,"x":-4,"y":1230},{"c":16,"x":-1,"y":1250},{"c":16,"x":2,"y":1500},{"c":16,"x":5,"y":1900},{"c":16,"x":8.5,"y":2200},
{"c":17,"x":-6.5,"y":1350},{"c":17,"x":-3,"y":1300},{"c":17,"x":0,"y":1320},{"c":17,"x":3,"y":1600},{"c":17,"x":6,"y":1850,"l":1810,"h":1890},{"c":17,"x":8.5,"y":1950,"l":1890,"h":2010},
{"c":18,"x":-5,"y":1200},{"c":18,"x":-2,"y":1220},{"c":18,"x":0,"y":1300},{"c":18,"x":3,"y":1500},{"c":18,"x":6,"y":1650},{"c":18,"x":8,"y":1700},
{"c":19,"x":-9.2,"y":1300},{"c":19,"x":-6,"y":1250},{"c":19,"x":-3,"y":1250},{"c":19,"x":-1,"y":1330},{"c":19,"x":2,"y":1700},{"c":19,"x":5,"y":2200},{"c":19,"x":6,"y":2450},
{"c":20,"x":-5.5,"y":1400},{"c":20,"x":-3,"y":1420},{"c":20,"x":-1,"y":1430},{"c":20,"x":1,"y":1550},{"c":20,"x":3,"y":1900},{"c":20,"x":5,"y":2300},{"c":20,"x":6.2,"y":2550},
{"c":21,"x":-4,"y":1250},{"c":21,"x":-1,"y":1230},{"c":21,"x":1,"y":1350},{"c":21,"x":4,"y":1600},{"c":21,"x":7,"y":1800},{"c":21,"x":9,"y":1850},
{"c":22,"x":-8,"y":1200},{"c":22,"x":-5,"y":1190},{"c":22,"x":-2,"y":1200},{"c":22,"x":0,"y":1280},{"c":22,"x":3,"y":1550},{"c":22,"x":6,"y":1800},{"c":22,"x":7.9,"y":1900}
],
"b4":[
{"c":1,"x":-7.49,"y":1300,"l":1250,"h":1350},{"c":1,"x":-5,"y":1250,"l":1225,"h":1275},{"c":1,"x":-2,"y":1280},{"c":1,"x":0,"y":1400},{"c":1,"x":2,"y":1750},{"c":1,"x":5,"y":2400,"l":2360,"h":2440},{"c":1,"x":8.24,"y":3245,"l":3165,"h":3325},
{"c":2,"x":-7.05,"y":1415,"l":1365,"h":1465},{"c":2,"x":-5,"y":1320,"l":1295,"h":1345},{"c":2,"x":-2,"y":1250},{"c":2,"x":0,"y":1350},{"c":2,"x":3,"y":1800},{"c":2,"x":5.5,"y":2300},{"c":2,"x":7.52,"y":2774},
{"c":3,"x":-6.47,"y":1470},{"c":3,"x":-4,"y":1330},{"c":3,"x":-1,"y":1280},{"c":3,"x":1,"y":1450},{"c":3,"x":4,"y":2000},{"c":3,"x":6,"y":2450},{"c":3,"x":8.24,"y":2792},
{"c":4,"x":-7.19,"y":1190},{"c":4,"x":-4,"y":1200},{"c":4,"x":-1,"y":1280},{"c":4,"x":2,"y":1600},{"c":4,"x":5,"y":2200},{"c":4,"x":7,"y":2600,"l":2560,"h":2640},{"c":4,"x":9.26,"y":2868,"l":2788,"h":2948},
{"c":5,"x":-6.76,"y":1130},{"c":5,"x":-4,"y":1180},{"c":5,"x":-1,"y":1280},{"c":5,"x":2,"y":1550},{"c":5,"x":5,"y":2050},{"c":5,"x":8,"y":2450,"l":2400,"h":2500},{"c":5,"x":10.14,"y":2604,"l":2524,"h":2684},
{"c":6,"x":-6.52,"y":1340},{"c":6,"x":-4,"y":1270},{"c":6,"x":-1,"y":1300},{"c":6,"x":2,"y":1600},{"c":6,"x":5,"y":2050},{"c":6,"x":8,"y":2300},{"c":6,"x":9.5,"y":2400,"l":2330,"h":2470},{"c":6,"x":11.5,"y":2460,"l":2330,"h":2590},{"c":6,"x":13.78,"y":2509,"l":2329,"h":2689},
{"c":7,"x":-7,"y":1250},{"c":7,"x":-4,"y":1230},{"c":7,"x":-1,"y":1300},{"c":7,"x":2,"y":1600},{"c":7,"x":5,"y":2000},{"c":7,"x":7.5,"y":2200,"l":2150,"h":2250},{"c":7,"x":9.99,"y":2302,"l":2232,"h":2372},
{"c":8,"x":-6,"y":1300},{"c":8,"x":-3,"y":1260},{"c":8,"x":0,"y":1380},{"c":8,"x":3,"y":1650},{"c":8,"x":6,"y":1850,"l":1810,"h":1890},{"c":8,"x":9.26,"y":2019,"l":1949,"h":2089},
{"c":9,"x":-5.5,"y":1250},{"c":9,"x":-3,"y":1240},{"c":9,"x":0,"y":1370},{"c":9,"x":3,"y":1700},{"c":9,"x":6,"y":1950},{"c":9,"x":7.81,"y":2057},
{"c":10,"x":-6.8,"y":1200},{"c":10,"x":-4,"y":1200},{"c":10,"x":-1,"y":1280},{"c":10,"x":2,"y":1500},{"c":10,"x":4.5,"y":1750,"l":1710,"h":1790},{"c":10,"x":6.35,"y":1887,"l":1827,"h":1947},
{"c":11,"x":-5.3,"y":1400},{"c":11,"x":-4,"y":1430},{"c":11,"x":-2.5,"y":1430},{"c":11,"x":-1.2,"y":1420},{"c":11,"x":1,"y":1600},{"c":11,"x":3,"y":1900},{"c":11,"x":5,"y":2250},{"c":11,"x":6.5,"y":2550},
{"c":12,"x":-7.2,"y":1350},{"c":12,"x":-5,"y":1300},{"c":12,"x":-2,"y":1270},{"c":12,"x":0,"y":1350},{"c":12,"x":2,"y":1600},{"c":12,"x":4,"y":2000},{"c":12,"x":6,"y":2400},{"c":12,"x":7,"y":2600},
{"c":13,"x":-6.2,"y":1250},{"c":13,"x":-3,"y":1220},{"c":13,"x":0,"y":1350},{"c":13,"x":3,"y":1750},{"c":13,"x":6,"y":2200},{"c":13,"x":8,"y":2450},
{"c":14,"x":-5.8,"y":1180},{"c":14,"x":-3,"y":1200},{"c":14,"x":0,"y":1320},{"c":14,"x":3,"y":1650},{"c":14,"x":6,"y":2050},{"c":14,"x":9.5,"y":2350},
{"c":15,"x":-6.5,"y":1280},{"c":15,"x":-4,"y":1260},{"c":15,"x":-1,"y":1290},{"c":15,"x":2,"y":1550},{"c":15,"x":5,"y":2000,"l":1960,"h":2040},{"c":15,"x":7.5,"y":2300,"l":2240,"h":2360},
{"c":16,"x":-4.8,"y":1300},{"c":16,"x":-2,"y":1280},{"c":16,"x":0,"y":1340},{"c":16,"x":2.5,"y":1600},{"c":16,"x":5,"y":1900},{"c":16,"x":8,"y":2150},
{"c":17,"x":-7.3,"y":1280,"l":1230,"h":1330},{"c":17,"x":-5,"y":1240,"l":1215,"h":1265},{"c":17,"x":-2,"y":1250},{"c":17,"x":0,"y":1320},{"c":17,"x":3,"y":1700},{"c":17,"x":6.5,"y":2300},{"c":17,"x":8,"y":2700},
{"c":18,"x":-6,"y":1350},{"c":18,"x":-3,"y":1300},{"c":18,"x":0,"y":1350},{"c":18,"x":3,"y":1750},{"c":18,"x":6,"y":2250},{"c":18,"x":7.2,"y":2500},
{"c":19,"x":-3,"y":1250},{"c":19,"x":0,"y":1300},{"c":19,"x":2,"y":1500},{"c":19,"x":4,"y":1800},{"c":19,"x":6,"y":2000},{"c":19,"x":7,"y":2100}
]
},
"spacing":38,
"vconcat":[
{"spacing":16,
 "title":{"text":"(a) T₁ versus non-normalized intensities of T₁w, T₂w, PDw and FLAIR within NAWM","orient":"bottom","anchor":"middle","font":"DejaVu Serif","fontSize":22.7,"fontWeight":"normal","color":"#000000","offset":22},
 "hconcat":[
 {"width":266,"height":289,"data":{"name":"a1"},
  "encoding":{"x":{"field":"x","type":"quantitative","scale":{"domain":[-1140,22120],"nice":false,"zero":false},"axis":{"values":[0,5000,10000,15000,20000],"labelExpr":"''+datum.value","title":"T₁w Intensity"}},"detail":{"field":"c","type":"nominal"}},
  "layer":[
   {"mark":{"type":"area","color":"#999999","opacity":0.4,"interpolate":"monotone","clip":true},"encoding":{"y":{"field":"l","type":"quantitative","scale":{"domain":[864,4148],"nice":false,"zero":false},"axis":{"values":[1000,2000,3000,4000],"labelExpr":"''+datum.value","title":"T₁ Value"}},"y2":{"field":"h"}}},
   {"mark":{"type":"line","color":"#3366FF","strokeWidth":0.9,"interpolate":"monotone","clip":true},"encoding":{"y":{"field":"y","type":"quantitative","scale":{"domain":[864,4148],"nice":false,"zero":false},"axis":{"values":[1000,2000,3000,4000],"labelExpr":"''+datum.value","title":"T₁ Value"}}}}
  ]},
 {"width":266,"height":289,"data":{"name":"a2"},
  "encoding":{"x":{"field":"x","type":"quantitative","scale":{"domain":[-80,774],"nice":false,"zero":false},"axis":{"values":[0,200,400,600],"labelExpr":"''+datum.value","title":"T₂w Intensity"}},"detail":{"field":"c","type":"nominal"}},
  "layer":[
   {"mark":{"type":"area","color":"#999999","opacity":0.4,"interpolate":"monotone","clip":true},"encoding":{"y":{"field":"l","type":"quantitative","scale":{"domain":[864,4148],"nice":false,"zero":false},"axis":{"values":[1000,2000,3000,4000],"labels":false,"title":null}},"y2":{"field":"h"}}},
   {"mark":{"type":"line","color":"#3366FF","strokeWidth":0.9,"interpolate":"monotone","clip":true},"encoding":{"y":{"field":"y","type":"quantitative","scale":{"domain":[864,4148],"nice":false,"zero":false},"axis":{"values":[1000,2000,3000,4000],"labels":false,"title":null}}}}
  ]},
 {"width":266,"height":289,"data":{"name":"a3"},
  "encoding":{"x":{"field":"x","type":"quantitative","scale":{"domain":[-185,3326],"nice":false,"zero":false},"axis":{"values":[0,1000,2000,3000],"labelExpr":"''+datum.value","title":"PDw Intensity"}},"detail":{"field":"c","type":"nominal"}},
  "layer":[
   {"mark":{"type":"area","color":"#999999","opacity":0.4,"interpolate":"monotone","clip":true},"encoding":{"y":{"field":"l","type":"quantitative","scale":{"domain":[864,4148],"nice":false,"zero":false},"axis":{"values":[1000,2000,3000,4000],"labels":false,"title":null}},"y2":{"field":"h"}}},
   {"mark":{"type":"line","color":"#3366FF","strokeWidth":0.9,"interpolate":"monotone","clip":true},"encoding":{"y":{"field":"y","type":"quantitative","scale":{"domain":[864,4148],"nice":false,"zero":false},"axis":{"values":[1000,2000,3000,4000],"labels":false,"title":null}}}}
  ]},
 {"width":266,"height":289,"data":{"name":"a4"},
  "encoding":{"x":{"field":"x","type":"quantitative","scale":{"domain":[2,572],"nice":false,"zero":false},"axis":{"values":[100,200,300,400,500],"labelExpr":"''+datum.value","title":"FLAIR Intensity"}},"detail":{"field":"c","type":"nominal"}},
  "layer":[
   {"mark":{"type":"area","color":"#999999","opacity":0.4,"interpolate":"monotone","clip":true},"encoding":{"y":{"field":"l","type":"quantitative","scale":{"domain":[864,4148],"nice":false,"zero":false},"axis":{"values":[1000,2000,3000,4000],"labels":false,"title":null}},"y2":{"field":"h"}}},
   {"mark":{"type":"line","color":"#3366FF","strokeWidth":0.9,"interpolate":"monotone","clip":true},"encoding":{"y":{"field":"y","type":"quantitative","scale":{"domain":[864,4148],"nice":false,"zero":false},"axis":{"values":[1000,2000,3000,4000],"labels":false,"title":null}}}}
  ]}
 ]},
{"spacing":17,
 "title":{"text":"(b) T₁ versus normalized intensities of T₁w, T₂w, PDw and FLAIR within NAWM","orient":"bottom","anchor":"middle","font":"DejaVu Serif","fontSize":22.7,"fontWeight":"normal","color":"#000000","offset":18},
 "hconcat":[
 {"width":266,"height":291,"data":{"name":"b1"},
  "encoding":{"x":{"field":"x","type":"quantitative","scale":{"domain":[-12.46,19.5],"nice":false,"zero":false},"axis":{"values":[-10,0,10],"labelExpr":"''+datum.value","title":"T₁w Intensity"}},"detail":{"field":"c","type":"nominal"}},
  "layer":[
   {"mark":{"type":"area","color":"#999999","opacity":0.4,"interpolate":"monotone","clip":true},"encoding":{"y":{"field":"l","type":"quantitative","scale":{"domain":[856,4151],"nice":false,"zero":false},"axis":{"values":[1000,2000,3000,4000],"labelExpr":"''+datum.value","title":"T₁ Value"}},"y2":{"field":"h"}}},
   {"mark":{"type":"line","color":"#3366FF","strokeWidth":0.9,"interpolate":"monotone","clip":true},"encoding":{"y":{"field":"y","type":"quantitative","scale":{"domain":[856,4151],"nice":false,"zero":false},"axis":{"values":[1000,2000,3000,4000],"labelExpr":"''+datum.value","title":"T₁ Value"}}}}
  ]},
 {"width":266,"height":291,"data":{"name":"b2"},"view":{"stroke":null},
  "resolve":{"axis":{"x":"independent","y":"independent"}},
  "layer":[
   {"mark":{"type":"area","color":"#999999","opacity":0.4,"interpolate":"monotone","clip":true},"encoding":{"x":{"field":"x","type":"quantitative","scale":{"domain":[-10.05,17.58],"nice":false,"zero":false},"axis":{"orient":"top","labels":false,"ticks":false,"title":null,"domainColor":"#b4b4b4"}},"y":{"field":"l","type":"quantitative","scale":{"domain":[856,4151],"nice":false,"zero":false},"axis":{"orient":"right","labels":false,"ticks":false,"title":null,"domainColor":"#b4b4b4","minExtent":0}},"y2":{"field":"h"},"detail":{"field":"c","type":"nominal"}}},
   {"mark":{"type":"line","color":"#3366FF","strokeWidth":0.9,"interpolate":"monotone","clip":true},"encoding":{"x":{"field":"x","type":"quantitative","scale":{"domain":[-10.05,17.58],"nice":false,"zero":false},"axis":{"values":[-10,0,10],"labelExpr":"datum.value == -10 ? '0' : ''+datum.value","labelAlign":{"condition":{"test":"datum.value == -10","value":"left"},"value":"center"},"title":"T₂w Intensity"}},"y":{"field":"y","type":"quantitative","scale":{"domain":[856,4151],"nice":false,"zero":false},"axis":null},"detail":{"field":"c","type":"nominal"}}}
  ]},
 {"width":266,"height":291,"data":{"name":"b3"},"view":{"stroke":null},
  "resolve":{"axis":{"x":"independent","y":"independent"}},
  "layer":[
   {"mark":{"type":"area","color":"#999999","opacity":0.4,"interpolate":"monotone","clip":true},"encoding":{"x":{"field":"x","type":"quantitative","scale":{"domain":[-15.05,12.28],"nice":false,"zero":false},"axis":{"orient":"top","labels":false,"ticks":false,"title":null,"domainColor":"#b4b4b4"}},"y":{"field":"l","type":"quantitative","scale":{"domain":[856,4151],"nice":false,"zero":false},"axis":{"orient":"right","labels":false,"ticks":false,"title":null,"domainColor":"#b4b4b4","minExtent":0}},"y2":{"field":"h"},"detail":{"field":"c","type":"nominal"}}},
   {"mark":{"type":"line","color":"#3366FF","strokeWidth":0.9,"interpolate":"monotone","clip":true},"encoding":{"x":{"field":"x","type":"quantitative","scale":{"domain":[-15.05,12.28],"nice":false,"zero":false},"axis":{"values":[-15,-10,-5,0,5,10],"labelExpr":"datum.value == -15 ? '5' : ''+datum.value","labelAlign":{"condition":{"test":"datum.value == -15","value":"left"},"value":"center"},"title":"PDw Intensity"}},"y":{"field":"y","type":"quantitative","scale":{"domain":[856,4151],"nice":false,"zero":false},"axis":null},"detail":{"field":"c","type":"nominal"}}}
  ]},
 {"width":266,"height":291,"data":{"name":"b4"},"view":{"stroke":null},
  "resolve":{"axis":{"x":"independent","y":"independent"}},
  "layer":[
   {"mark":{"type":"area","color":"#999999","opacity":0.4,"interpolate":"monotone","clip":true},"encoding":{"x":{"field":"x","type":"quantitative","scale":{"domain":[-8.53,14.78],"nice":false,"zero":false},"axis":{"orient":"top","labels":false,"ticks":false,"title":null,"domainColor":"#b4b4b4"}},"y":{"field":"l","type":"quantitative","scale":{"domain":[856,4151],"nice":false,"zero":false},"axis":{"orient":"right","labels":false,"ticks":false,"title":null,"domainColor":"#b4b4b4","minExtent":0}},"y2":{"field":"h"},"detail":{"field":"c","type":"nominal"}}},
   {"mark":{"type":"line","color":"#3366FF","strokeWidth":0.9,"interpolate":"monotone","clip":true},"encoding":{"x":{"field":"x","type":"quantitative","scale":{"domain":[-8.53,14.78],"nice":false,"zero":false},"axis":{"values":[-5,0,5,10],"labelExpr":"''+datum.value","title":"FLAIR Intensity"}},"y":{"field":"y","type":"quantitative","scale":{"domain":[856,4151],"nice":false,"zero":false},"axis":null},"detail":{"field":"c","type":"nominal"}}}
  ]}
 ]}
]
}
